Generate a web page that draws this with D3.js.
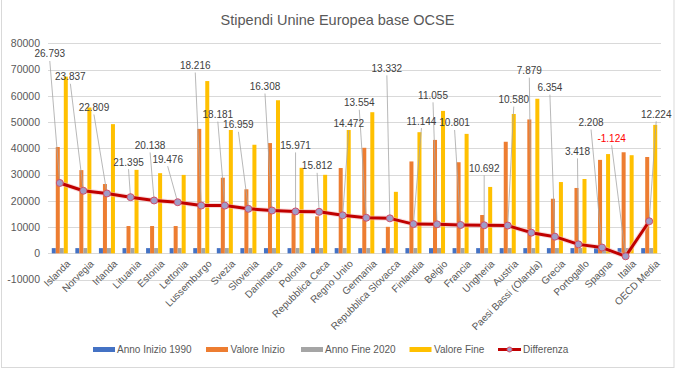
<!DOCTYPE html>
<html><head><meta charset="utf-8">
<script src="https://cdn.jsdelivr.net/npm/d3@7/dist/d3.min.js"></script>
<style>
html,body{margin:0;padding:0;background:#fff;}
svg{display:block;}
text{font-family:"Liberation Sans",Arial,sans-serif;}
</style></head>
<body><svg id="c" width="676" height="369"></svg>
<script>
const categories = ["Islanda","Norvegia","Irlanda","Lituania","Estonia","Lettonia","Lussemburgo","Svezia","Slovenia","Danimarca","Polonia","Repubblica Ceca","Regno Unito","Germania","Repubblica Slovacca","Finlandia","Belgio","Francia","Ungheria","Austria","Paesi Bassi (Olanda)","Grecia","Portogallo","Spagna","Italia","OECD Media"];
const annoInizio = [1990,1990,1990,1990,1990,1990,1990,1990,1990,1990,1990,1990,1990,1990,1990,1990,1990,1990,1990,1990,1990,1990,1990,1990,1990,1990];
const valoreInizio = [40500,31700,26400,10400,10400,10400,47400,28800,24400,42000,16600,14100,32500,40200,10100,35000,43200,34700,14600,42500,51000,20800,24900,35600,38500,36700];
const annoFine = [2020,2020,2020,2020,2020,2020,2020,2020,2020,2020,2020,2020,2020,2020,2020,2020,2020,2020,2020,2020,2020,2020,2020,2020,2020,2020];
const valoreFine = [67293,55537,49209,31795,30538,29876,65616,46981,41359,58308,32571,29912,46972,53754,23432,46144,54255,45501,25292,53080,58879,27154,28318,37808,37376,48924];
const differenza = [26793,23837,22809,21395,20138,19476,18216,18181,16959,16308,15971,15812,14472,13554,13332,11144,11055,10801,10692,10580,7879,6354,3418,2208,-1124,12224];
const yTicks = [-10000,0,10000,20000,30000,40000,50000,60000,70000,80000];
const seriesNames = ["Anno Inizio 1990","Valore Inizio","Anno Fine 2020","Valore Fine"];
const seriesColors = ["#4472C4","#ED7D31","#A5A5A5","#FFC000"];
// label placement offsets (pixels, relative to marker) — layout only
const labelOffsets = [[-10,-129],[-13,-114],[-13,-86],[-2,-35],[-4,-55],[-10,-43],[-6,-140],[-7,-91],[-10,-84],[-7,-124],[0,-66],[-2,-46],[6,-92],[-7,-115],[-3,-150],[8,-103],[-4,-129],[-6,-102],[0,-57],[6,-126],[-2,-162],[-5,-149],[-1,-93],[-11,-125],[-14,-118],[7,-107]];

const svg = d3.select("#c");
// chart border
svg.append("rect").attr("x",1.5).attr("y",-1).attr("width",672.5).attr("height",368.5)
  .attr("fill","none").attr("stroke","#d9d9d9").attr("stroke-width",1);

const pL=48, pR=661, pT=43.3, pB=279.6;
const y = d3.scaleLinear().domain([-10000,80000]).range([pB,pT]);
const x = d3.scaleBand().domain(categories).range([pL,pR]).paddingInner(0.32).paddingOuter(0.16);
const x1 = d3.scaleBand().domain(d3.range(4)).range([0,x.bandwidth()]);

// title
svg.append("text").attr("x",337.5).attr("y",25).attr("text-anchor","middle")
  .attr("font-size",14.5).attr("fill","#595959").text("Stipendi Unine Europea base OCSE");

// gridlines
svg.append("g").selectAll("line").data(yTicks).join("line")
  .attr("x1",pL).attr("x2",pR)
  .attr("y1",d=>Math.round(y(d))+0.5).attr("y2",d=>Math.round(y(d))+0.5)
  .attr("stroke","#d9d9d9").attr("stroke-width",1);

// y axis labels
const yAxis = d3.axisLeft(y).tickValues(yTicks).tickSize(0).tickPadding(0).tickFormat(d=>String(d));
const ga = svg.append("g").attr("transform",`translate(${pL-8},0)`).call(yAxis);
ga.select(".domain").remove();
ga.selectAll("text").attr("font-size",10.5).attr("fill","#595959").attr("font-family","Liberation Sans,Arial,sans-serif");

// bars
const series = [annoInizio,valoreInizio,annoFine,valoreFine];
series.forEach((arr,si)=>{
  svg.append("g").selectAll("rect").data(arr).join("rect")
    .attr("x",(d,i)=>x(categories[i])+x1(si))
    .attr("width",x1.bandwidth())
    .attr("y",d=>y(Math.max(0,d)))
    .attr("height",d=>Math.abs(y(d)-y(0)))
    .attr("fill",seriesColors[si]);
});

// x axis labels
const xAxis = d3.axisBottom(x).tickSize(0).tickPadding(0);
const gx = svg.append("g").attr("transform",`translate(0,${y(0)})`).call(xAxis);
gx.select(".domain").remove();
gx.selectAll("text")
  .attr("font-size",10).attr("fill","#595959").attr("font-family","Liberation Sans,Arial,sans-serif")
  .attr("text-anchor","end").attr("dy",null).attr("y",0)
  .attr("transform","translate(6,6) rotate(-45)").attr("dominant-baseline","hanging");

// line
const cx = i=>x(categories[i])+x.bandwidth()/2;
const line = d3.line().x((d,i)=>cx(i)).y(d=>y(d));
svg.append("path").datum(differenza).attr("d",line).attr("fill","none")
  .attr("stroke","#F4B6B6").attr("stroke-width",5).attr("stroke-opacity",0.5).attr("stroke-linejoin","round");
svg.append("path").datum(differenza).attr("d",line).attr("fill","none")
  .attr("stroke","#C00000").attr("stroke-width",3).attr("stroke-linejoin","round");

// leader lines
const fmt = v => { const s=Math.abs(v).toString(); const t=s.length>3? s.slice(0,s.length-3)+"."+s.slice(-3):s; return (v<0?"-":"")+t; };
svg.append("g").selectAll("line").data(differenza).join("line")
  .attr("x1",(d,i)=>cx(i)+labelOffsets[i][0]).attr("y1",(d,i)=>y(d)+labelOffsets[i][1]+7)
  .attr("x2",(d,i)=>cx(i)).attr("y2",d=>y(d))
  .attr("stroke","#a6a6a6").attr("stroke-width",0.8);

// markers
svg.append("g").selectAll("circle").data(differenza).join("circle")
  .attr("cx",(d,i)=>cx(i)).attr("cy",d=>y(d)).attr("r",3.5)
  .attr("fill","#A09CC8").attr("stroke","#D0506A").attr("stroke-width",1);

// data labels
svg.append("g").selectAll("text").data(differenza).join("text")
  .attr("x",(d,i)=>cx(i)+labelOffsets[i][0]).attr("y",(d,i)=>y(d)+labelOffsets[i][1])
  .attr("text-anchor","middle").attr("dominant-baseline","central")
  .attr("font-size",10).attr("fill",d=>d<0?"#FF0000":"#404040").text(d=>fmt(d));

// legend
const legendItems = [
  {name:seriesNames[0],color:seriesColors[0],x:93,tx:117},
  {name:seriesNames[1],color:seriesColors[1],x:206,tx:230.5},
  {name:seriesNames[2],color:seriesColors[2],x:301,tx:325},
  {name:seriesNames[3],color:seriesColors[3],x:409.5,tx:434},
  {name:"Differenza",color:"#C00000",x:498,tx:523,line:true}
];
const lg = svg.append("g");
legendItems.forEach(it=>{
  if(it.line){
    lg.append("line").attr("x1",it.x).attr("x2",it.x+23).attr("y1",349.5).attr("y2",349.5).attr("stroke",it.color).attr("stroke-width",3);
    lg.append("circle").attr("cx",it.x+11.5).attr("cy",349.5).attr("r",2.5).attr("fill","#A09CC8").attr("stroke","#D0506A").attr("stroke-width",1);
  } else {
    lg.append("rect").attr("x",it.x).attr("y",347).attr("width",22).attr("height",5).attr("fill",it.color);
  }
  lg.append("text").attr("x",it.tx).attr("y",349.5).attr("dominant-baseline","central")
    .attr("font-size",10).attr("fill","#595959").text(it.name);
});
</script></body></html>
